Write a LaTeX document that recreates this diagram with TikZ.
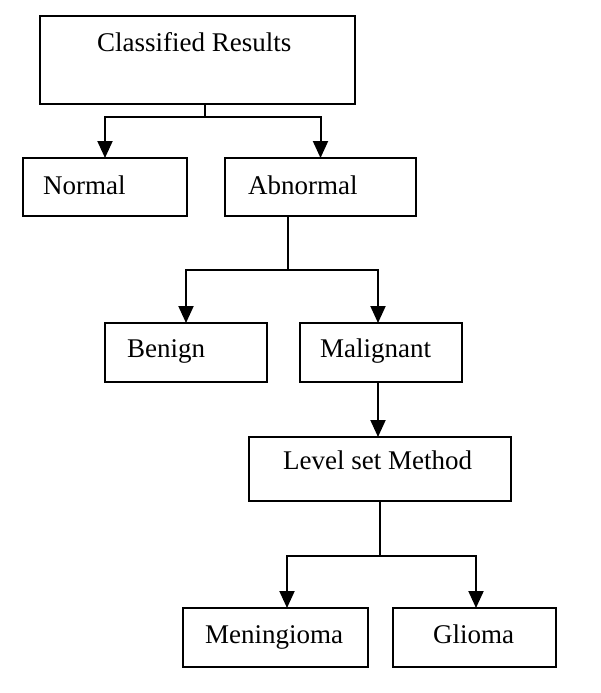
\documentclass[tikz,border=0pt]{standalone}
\usepackage{fontspec}
\setmainfont{Liberation Serif}
\usetikzlibrary{arrows.meta}
\begin{document}
\begin{tikzpicture}[x=1pt,y=-1pt,
  box/.style={draw,line width=2pt,minimum width=#1,inner sep=0pt,outer sep=0pt},
  lbl/.style={anchor=base west,inner sep=0pt,font=\fontsize{27}{32}\selectfont},
  conn/.style={line width=2pt},
  arr/.style={line width=2pt,-{Triangle[width=15pt,length=17pt]}}]
\useasboundingbox (0,0) rectangle (600,693);
% boxes
\node[box=315.5pt,minimum height=88pt] (cr) at (197.25,60) {};
\node[box=164pt,minimum height=58pt] (normal) at (105,187) {};
\node[box=191pt,minimum height=58pt] (abn) at (320.5,187) {};
\node[box=162pt,minimum height=59pt] (benign) at (186,352.5) {};
\node[box=162pt,minimum height=59pt] (malig) at (381,352.5) {};
\node[box=262pt,minimum height=64pt] (level) at (380,469) {};
\node[box=185pt,minimum height=59pt] (men) at (275.5,637.5) {};
\node[box=163pt,minimum height=59pt] (glioma) at (474.5,637.5) {};
% labels
\node[lbl] (tcr) at (97,52) {Classified Results};
\node[lbl] (tnormal) at (43,194) {Normal};
\node[lbl] (tabn) at (248,194) {Abnormal};
\node[lbl] (tbenign) at (127,357) {Benign};
\node[lbl] (tmalig) at (320,357) {Malignant};
\node[lbl] (tlevel) at (283,469) {Level set Method};
\node[lbl] (tmen) at (205,643) {Meningioma};
\node[lbl] (tglioma) at (433,643) {Glioma};
% junctions
\coordinate (j1) at (205,117);
\coordinate (j2) at (288,270);
\coordinate (j3) at (380,556);
% connectors
\draw[conn] (cr.south -| j1) -- (j1);
\draw[arr] (j1) -| (normal.north);
\draw[arr] (j1) -| (abn.north);
\draw[conn] (abn.south -| j2) -- (j2);
\draw[arr] (j2) -| (benign.north);
\draw[arr] (j2) -| (malig.north -| 378,0);
\draw[arr] (malig.south -| 378,0) -- (level.north -| 378,0);
\draw[conn] (level.south -| j3) -- (j3);
\draw[arr] (j3) -| (men.north -| 287,0);
\draw[arr] (j3) -| (glioma.north -| 476,0);
\end{tikzpicture}
\end{document}
